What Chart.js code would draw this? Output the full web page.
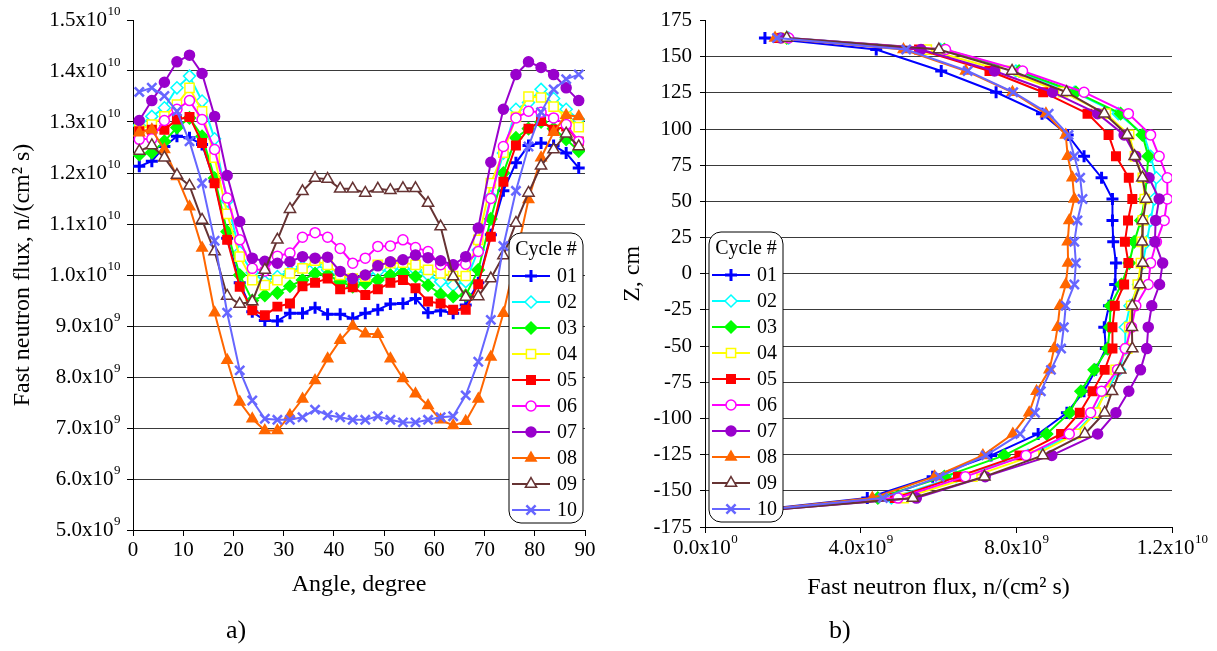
<!DOCTYPE html>
<html>
<head>
<meta charset="utf-8">
<script src="https://cdn.jsdelivr.net/npm/chart.js@4.4.1/dist/chart.umd.min.js"></script>
<style>
  html, body { margin: 0; padding: 0; background: #fff; }
  body { width: 1217px; height: 651px; position: relative; overflow: hidden;
         font-family: "Liberation Serif", "Times New Roman", serif; }
  #panelA { position: absolute; left: 0; top: 0; }
  #panelB { position: absolute; left: 610px; top: 0; }
  .tag { position: absolute; top: 615px; font-size: 26px; color: #000; }
</style>
</head>
<body>
<canvas id="panelA" width="610" height="620"></canvas>
<canvas id="panelB" width="607" height="620"></canvas>
<div class="tag" style="left:226px">a)</div>
<div class="tag" style="left:829px">b)</div>
<script>
// ===== Data =====
const cycleLabels = ["01", "02", "03", "04", "05", "06", "07", "08", "09", "10"];

// a) azimuthal distribution, flux in units of 1e9 n/(cm2 s)
const angles = [1.25, 3.75, 6.25, 8.75, 11.25, 13.75, 16.25, 18.75, 21.25, 23.75,
  26.25, 28.75, 31.25, 33.75, 36.25, 38.75, 41.25, 43.75, 46.25, 48.75,
  51.25, 53.75, 56.25, 58.75, 61.25, 63.75, 66.25, 68.75, 71.25, 73.75,
  76.25, 78.75, 81.25, 83.75, 86.25, 88.75];

const angle01 = [12.13, 12.23, 12.52, 12.72, 12.69, 12.56, 11.84, 10.72, 9.85, 9.28,
  9.11, 9.10, 9.25, 9.25, 9.36, 9.23, 9.23, 9.15, 9.25, 9.32,
  9.43, 9.44, 9.54, 9.26, 9.30, 9.25, 9.41, 9.85, 10.79, 11.65,
  12.20, 12.54, 12.59, 12.54, 12.39, 12.10];
const angle02 = [12.93, 13.11, 13.28, 13.67, 13.90, 13.41, 12.67, 11.45, 10.45, 10.05,
  9.87, 9.97, 10.07, 10.16, 10.20, 10.10, 9.93, 9.87, 9.97, 10.07,
  10.10, 10.13, 10.10, 10.00, 9.87, 9.80, 9.87, 10.49, 11.54, 12.39,
  13.25, 13.38, 13.64, 13.46, 13.25, 13.05];
const angle03 = [12.36, 12.40, 12.62, 12.89, 13.08, 12.72, 11.90, 10.85, 10.00, 9.50,
  9.60, 9.65, 9.78, 9.90, 10.03, 10.00, 9.87, 9.77, 9.84, 9.90,
  10.00, 10.05, 9.97, 9.80, 9.62, 9.58, 9.60, 10.10, 11.10, 12.00,
  12.69, 12.87, 13.00, 12.87, 12.66, 12.43];
const angle04 = [12.85, 12.95, 13.11, 13.34, 13.67, 13.21, 12.30, 11.20, 10.36, 9.90,
  9.80, 9.90, 10.03, 10.13, 10.28, 10.20, 10.00, 9.93, 9.97, 10.20,
  10.23, 10.24, 10.20, 10.10, 10.03, 9.98, 9.98, 10.69, 11.80, 12.40,
  13.10, 13.50, 13.48, 13.30, 13.10, 12.90];
const angle05 = [12.82, 12.85, 12.85, 13.05, 13.10, 12.59, 11.80, 10.69, 9.77, 9.31,
  9.21, 9.38, 9.44, 9.78, 9.85, 9.93, 9.72, 9.76, 9.61, 9.72,
  9.85, 9.90, 9.74, 9.48, 9.44, 9.32, 9.32, 9.82, 10.75, 11.83,
  12.54, 12.87, 13.02, 12.85, 12.91, 12.62];
const angle06 = [12.66, 12.67, 13.03, 13.25, 13.42, 13.05, 12.46, 11.51, 10.69, 10.13,
  10.08, 10.37, 10.43, 10.74, 10.83, 10.74, 10.52, 10.23, 10.33, 10.56,
  10.57, 10.69, 10.54, 10.46, 10.20, 10.19, 10.21, 10.46, 11.50, 12.52,
  13.08, 13.21, 13.19, 13.08, 12.95, 12.62];
const angle07 = [13.03, 13.42, 13.78, 14.18, 14.31, 13.95, 13.11, 11.95, 11.05, 10.33,
  10.27, 10.23, 10.26, 10.36, 10.33, 10.35, 10.07, 9.93, 10.00, 10.18,
  10.26, 10.30, 10.39, 10.34, 10.28, 10.20, 10.36, 10.92, 12.21, 13.25,
  13.93, 14.18, 14.07, 13.93, 13.67, 13.42];
const angle08 = [12.79, 12.85, 12.46, 11.93, 11.34, 10.53, 9.26, 8.33, 7.51, 7.18,
  6.95, 6.95, 7.25, 7.57, 7.93, 8.36, 8.72, 9.00, 8.85, 8.84,
  8.36, 7.97, 7.67, 7.44, 7.16, 7.05, 7.13, 7.57, 8.39, 9.25,
  10.35, 11.48, 12.30, 12.80, 13.13, 13.11];
const angle09 = [12.43, 12.54, 12.30, 11.96, 11.75, 11.08, 10.46, 9.59, 9.43, 9.48,
  10.10, 10.69, 11.29, 11.64, 11.90, 11.88, 11.69, 11.69, 11.61, 11.69,
  11.66, 11.70, 11.70, 11.41, 10.95, 9.97, 9.57, 9.58, 9.93, 10.38,
  11.02, 11.61, 12.14, 12.46, 12.77, 12.52];
const angle10 = [13.59, 13.67, 13.51, 13.21, 12.62, 11.80, 10.67, 9.26, 8.13, 7.54,
  7.18, 7.16, 7.16, 7.21, 7.36, 7.25, 7.21, 7.16, 7.16, 7.23,
  7.16, 7.11, 7.11, 7.16, 7.21, 7.23, 7.64, 8.30, 9.12, 10.57,
  11.65, 12.52, 13.19, 13.64, 13.84, 13.93];

// b) axial distribution, Z in cm, flux in units of 1e9 n/(cm2 s)
const zLevels = [163, 155, 140.2, 125.5, 110.7, 96, 81.2, 66.4, 51.7, 36.9, 22.1, 7.4,
  -7.4, -22.1, -36.9, -51.7, -66.4, -81.2, -96, -110.7, -125.5, -140.2, -155, -163];

const axial01 = [1.54, 4.40, 6.07, 7.48, 8.66, 9.32, 9.74, 10.19, 10.47, 10.47, 10.49, 10.56,
  10.54, 10.38, 10.26, 10.30, 10.04, 9.74, 9.30, 8.56, 7.35, 5.85, 4.17, 1.40];
const axial02 = [2.15, 6.05, 7.99, 9.49, 10.62, 11.28, 11.45, 11.60, 11.55, 11.45, 11.35, 11.25,
  11.14, 10.92, 10.80, 10.80, 10.65, 10.30, 10.00, 9.50, 8.30, 6.45, 4.79, 1.70];
const axial03 = [2.10, 6.15, 8.07, 9.53, 10.68, 11.24, 11.39, 11.35, 11.30, 11.20, 11.03, 10.90,
  10.70, 10.42, 10.40, 10.35, 10.00, 9.66, 9.37, 8.78, 7.69, 6.15, 4.44, 1.60];
const axial04 = [2.00, 5.70, 7.70, 9.20, 10.30, 10.90, 11.05, 11.25, 11.30, 11.25, 11.22, 11.20,
  11.12, 10.95, 10.90, 10.85, 10.55, 10.30, 10.04, 9.53, 8.46, 6.87, 5.10, 1.70];
const axial05 = [1.90, 5.50, 7.31, 8.69, 9.83, 10.37, 10.56, 10.89, 10.98, 10.87, 10.79, 10.88,
  10.77, 10.53, 10.47, 10.47, 10.27, 9.96, 9.63, 9.15, 8.08, 6.50, 4.88, 1.60];
const axial06 = [2.15, 6.18, 8.16, 9.74, 10.88, 11.45, 11.67, 11.88, 11.88, 11.80, 11.60, 11.45,
  11.39, 11.07, 10.96, 10.80, 10.60, 10.19, 9.91, 9.36, 8.25, 6.69, 4.96, 1.70];
const axial07 = [1.95, 5.55, 7.44, 8.93, 10.09, 10.77, 11.07, 11.41, 11.67, 11.58, 11.56, 11.76,
  11.68, 11.48, 11.39, 11.35, 11.19, 10.89, 10.56, 10.09, 8.91, 7.20, 5.43, 1.75];
const axial08 = [1.80, 5.10, 6.70, 7.90, 8.76, 9.27, 9.32, 9.44, 9.49, 9.36, 9.32, 9.33,
  9.27, 9.12, 9.06, 8.97, 8.85, 8.52, 8.33, 7.91, 7.14, 5.90, 4.30, 1.50];
const axial09 = [2.10, 6.01, 7.89, 9.29, 10.26, 10.85, 11.04, 11.24, 11.34, 11.25, 11.23, 11.25,
  11.18, 10.98, 10.97, 10.98, 10.67, 10.46, 10.27, 9.76, 8.68, 7.18, 5.34, 1.75];
const axial10 = [1.85, 5.17, 6.75, 7.92, 8.83, 9.34, 9.49, 9.64, 9.70, 9.57, 9.49, 9.53,
  9.49, 9.27, 9.22, 9.15, 8.89, 8.63, 8.48, 8.10, 7.22, 6.03, 4.57, 1.55];

// tick labels: mantissa part and power of ten
const fluxBaseA = ["5.0x10", "6.0x10", "7.0x10", "8.0x10", "9.0x10",
  "1.0x10", "1.1x10", "1.2x10", "1.3x10", "1.4x10", "1.5x10"];
const fluxPowA = ["9", "9", "9", "9", "9", "10", "10", "10", "10", "10", "10"];
const fluxBaseB = ["0.0x10", "4.0x10", "8.0x10", "1.2x10"];
const fluxPowB = ["0", "9", "9", "10"];

// ===== Styles =====
const cycleColors = ["#0000FF", "#00FFFF", "#00FF00", "#FFFF00", "#FF0000",
  "#FF00FF", "#9900CC", "#FF6600", "#663333", "#6666FF"];
const cycleMarkers = ["cross", "rectRot", "rectRot", "rect", "rect",
  "circle", "circle", "triangle", "triangle", "crossRot"];
const cycleHollow = [false, true, false, true, false, true, false, false, true, false];
const markerRadius = [6, 6, 6, 6.5, 6, 5, 5, 6, 6.5, 6.5];
const markerLine = [3, 1.5, 1.5, 1.5, 1.5, 1.5, 1.5, 1.5, 1.5, 2.5];

const serif = '"Liberation Serif", "Times New Roman", serif';
Chart.defaults.font.family = serif;
Chart.defaults.color = "#000";

function buildSets(positions, seriesList, vertical) {
  return seriesList.map((vals, i) => ({
    label: cycleLabels[i],
    data: vals.map((v, j) => vertical ? { x: v, y: positions[j] } : { x: positions[j], y: v }),
    showLine: true,
    borderColor: cycleColors[i],
    backgroundColor: cycleColors[i],
    borderWidth: 2,
    pointStyle: cycleMarkers[i],
    pointRadius: markerRadius[i],
    pointBorderWidth: markerLine[i],
    pointBorderColor: cycleColors[i],
    pointBackgroundColor: cycleHollow[i] ? "#fff" : cycleColors[i],
    order: 10 - i
  }));
}

// Legend box with title "Cycle #"
const cycleLegend = {
  id: "cycleLegend",
  afterDraw(chart, args, opts) {
    const ctx = chart.ctx;
    const area = chart.chartArea;
    const w = 74, h = 290;
    const x0 = opts.side === "right" ? area.right - w - 2 : area.left + 4;
    const y0 = opts.top;
    ctx.save();
    ctx.beginPath();
    ctx.roundRect(x0, y0, w, h, 12);
    ctx.fillStyle = "#fff";
    ctx.fill();
    ctx.lineWidth = 1;
    ctx.strokeStyle = "#000";
    ctx.stroke();
    ctx.fillStyle = "#000";
    ctx.font = "20px " + serif;
    ctx.textAlign = "center";
    ctx.textBaseline = "middle";
    ctx.fillText("Cycle #", x0 + w / 2, y0 + 17);
    chart.data.datasets.forEach((ds, i) => {
      const y = y0 + 43 + i * 26;
      ctx.strokeStyle = ds.borderColor;
      ctx.lineWidth = ds.borderWidth;
      ctx.beginPath();
      ctx.moveTo(x0 + 3, y);
      ctx.lineTo(x0 + 41, y);
      ctx.stroke();
      ctx.fillStyle = ds.pointBackgroundColor;
      ctx.lineWidth = ds.pointBorderWidth;
      Chart.helpers.drawPoint(ctx, {
        pointStyle: ds.pointStyle, radius: ds.pointRadius,
        borderWidth: ds.pointBorderWidth, rotation: 0
      }, x0 + 22, y);
      ctx.fillStyle = "#000";
      ctx.textAlign = "left";
      ctx.fillText(ds.label, x0 + 48, y + 1);
    });
    ctx.restore();
  }
};

// Tick labels like 1.5x10^10 with a raised power
function sciTicks(scaleId, bases, pows) {
  return {
    id: "sciTicks",
    afterDraw(chart) {
      const ctx = chart.ctx;
      const scale = chart.scales[scaleId];
      ctx.save();
      ctx.fillStyle = "#000";
      ctx.textAlign = "left";
      ctx.textBaseline = "middle";
      scale.ticks.forEach((t, i) => {
        const p = scale.getPixelForValue(t.value);
        ctx.font = "21px " + serif;
        const wb = ctx.measureText(bases[i]).width;
        ctx.font = "13px " + serif;
        const wp = ctx.measureText(pows[i]).width;
        let x, y;
        if (scale.isHorizontal()) {
          x = p - (wb + wp) / 2;
          y = scale.top + 21;
        } else {
          x = scale.right - 13 - wb - wp;
          y = p;
        }
        ctx.font = "21px " + serif;
        ctx.fillText(bases[i], x, y);
        ctx.font = "13px " + serif;
        ctx.fillText(pows[i], x + wb + 0.5, y - 8);
      });
      ctx.restore();
    }
  };
}

const gridColor = (top) => (c) => (c.tick && c.tick.value >= top ? "rgba(0,0,0,0)" : "#3a3a3a");

// ===== a) Angle chart =====
new Chart(document.getElementById("panelA"), {
  type: "scatter",
  data: {
    datasets: buildSets(angles, [angle01, angle02, angle03, angle04, angle05,
      angle06, angle07, angle08, angle09, angle10], false)
  },
  options: {
    responsive: false,
    animation: false,
    devicePixelRatio: 1,
    layout: { padding: { left: 4, right: 25, top: 20, bottom: 17 } },
    plugins: {
      legend: { display: false },
      tooltip: { enabled: false },
      cycleLegend: { side: "right", top: 233 }
    },
    scales: {
      x: {
        type: "linear", min: 0, max: 90,
        ticks: { stepSize: 10, font: { size: 21 }, padding: 2, maxRotation: 0 },
        grid: { drawOnChartArea: false, tickLength: 6, tickColor: "#000" },
        border: { color: "#000" },
        title: { display: true, text: "Angle, degree", font: { size: 24 }, padding: 4 },
        afterFit: (s) => { s.height = 73; }
      },
      y: {
        min: 5, max: 15,
        ticks: { stepSize: 1, display: false },
        grid: { color: gridColor(15), tickLength: 6, tickColor: "#000" },
        border: { color: "#000" },
        title: { display: true, text: "Fast neutron flux, n/(cm\u00B2 s)", font: { size: 24 }, padding: 4 },
        afterFit: (s) => { s.width = 129; }
      }
    }
  },
  plugins: [cycleLegend, sciTicks("y", fluxBaseA, fluxPowA)]
});

// ===== b) Axial chart =====
new Chart(document.getElementById("panelB"), {
  type: "scatter",
  data: {
    datasets: buildSets(zLevels, [axial01, axial02, axial03, axial04, axial05,
      axial06, axial07, axial08, axial09, axial10], true)
  },
  options: {
    responsive: false,
    animation: false,
    devicePixelRatio: 1,
    layout: { padding: { left: 4, right: 45, top: 20, bottom: 14 } },
    plugins: {
      legend: { display: false },
      tooltip: { enabled: false },
      cycleLegend: { side: "left", top: 232 }
    },
    scales: {
      x: {
        type: "linear", min: 0, max: 12,
        ticks: { stepSize: 4, display: false },
        grid: { drawOnChartArea: false, tickLength: 6, tickColor: "#000" },
        border: { color: "#000" },
        title: { display: true, text: "Fast neutron flux, n/(cm\u00B2 s)", font: { size: 24 }, padding: 4 },
        afterFit: (s) => { s.height = 79; }
      },
      y: {
        min: -175, max: 175,
        ticks: { stepSize: 25, font: { size: 21 }, padding: 8, callback: (v) => String(v) },
        grid: { color: gridColor(175), tickLength: 5, tickColor: "#000" },
        border: { color: "#000" },
        title: { display: true, text: "Z, cm", font: { size: 24 }, padding: 4 },
        afterFit: (s) => { s.width = 91; }
      }
    }
  },
  plugins: [cycleLegend, sciTicks("x", fluxBaseB, fluxPowB)]
});
</script>
</body>
</html>
